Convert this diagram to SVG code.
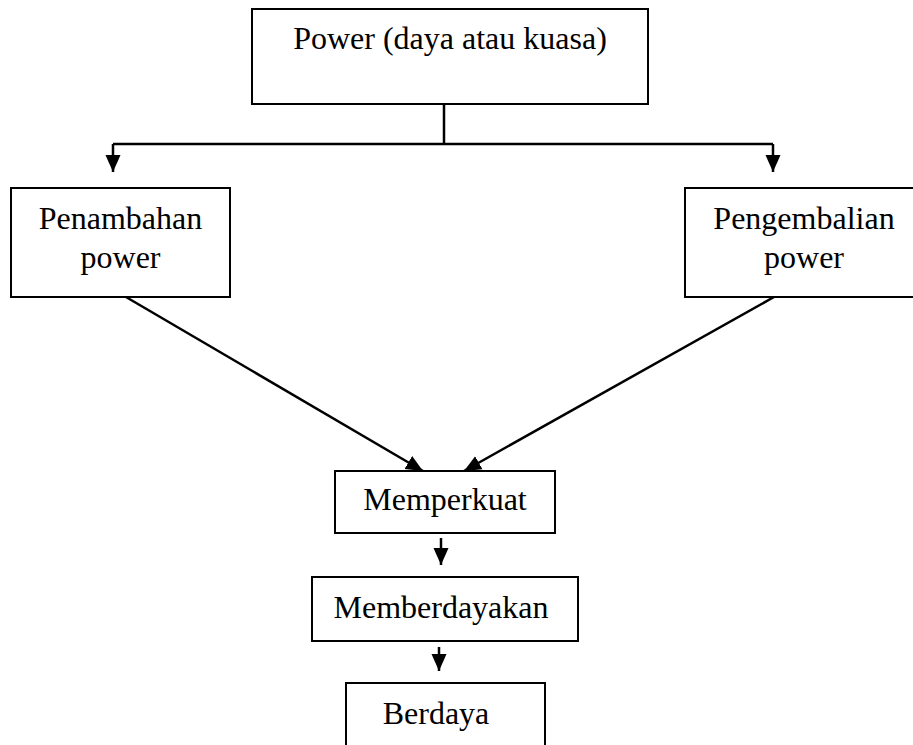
<svg xmlns="http://www.w3.org/2000/svg" width="913" height="745" viewBox="0 0 913 745">
<style>
.box{fill:#fff;stroke:#000;stroke-width:2}
.t{font-family:"Liberation Serif","Times New Roman",serif;font-size:32px;fill:#000;text-anchor:middle}
.c{fill:none;stroke:#000;stroke-width:2.5}
</style>
<defs>
<marker id="ah" markerUnits="userSpaceOnUse" markerWidth="18" markerHeight="18" viewBox="0 0 18 18" refX="17" refY="9" orient="auto">
<path d="M0,1.5 L17,9 L0,16.5 Z" fill="#000"/>
</marker>
</defs>
<rect width="913" height="745" fill="#fff"/>
<g id="power">
<rect class="box" x="252" y="9" width="396" height="95"/>
<text class="t" x="450" y="49">Power (daya atau kuasa)</text>
</g>
<g id="penambahan">
<rect class="box" x="11" y="188" width="219" height="109"/>
<text class="t" x="120.5" y="229">Penambahan</text>
<text class="t" x="120.5" y="268">power</text>
</g>
<g id="pengembalian">
<rect class="box" x="685" y="188" width="240" height="109"/>
<text class="t" x="804" y="229">Pengembalian</text>
<text class="t" x="804" y="268">power</text>
</g>
<g id="memperkuat">
<rect class="box" x="335" y="471" width="220" height="62"/>
<text class="t" x="445" y="510">Memperkuat</text>
</g>
<g id="memberdayakan">
<rect class="box" x="312" y="577" width="266" height="64"/>
<text class="t" x="441" y="618">Memberdayakan</text>
</g>
<g id="berdaya">
<rect class="box" x="346" y="683" width="199" height="90"/>
<text class="t" x="436" y="724">Berdaya</text>
</g>
<g id="connectors">
<path class="c" d="M444,104 V144"/>
<path class="c" d="M113,144 H773"/>
<path class="c" d="M113,144 V172" marker-end="url(#ah)"/>
<path class="c" d="M773,144 V172" marker-end="url(#ah)"/>
<path class="c" d="M126,297 L423,471" marker-end="url(#ah)"/>
<path class="c" d="M774,297 L464,471" marker-end="url(#ah)"/>
<path class="c" d="M441,538 V565" marker-end="url(#ah)"/>
<path class="c" d="M439,647 V671" marker-end="url(#ah)"/>
</g>
</svg>
